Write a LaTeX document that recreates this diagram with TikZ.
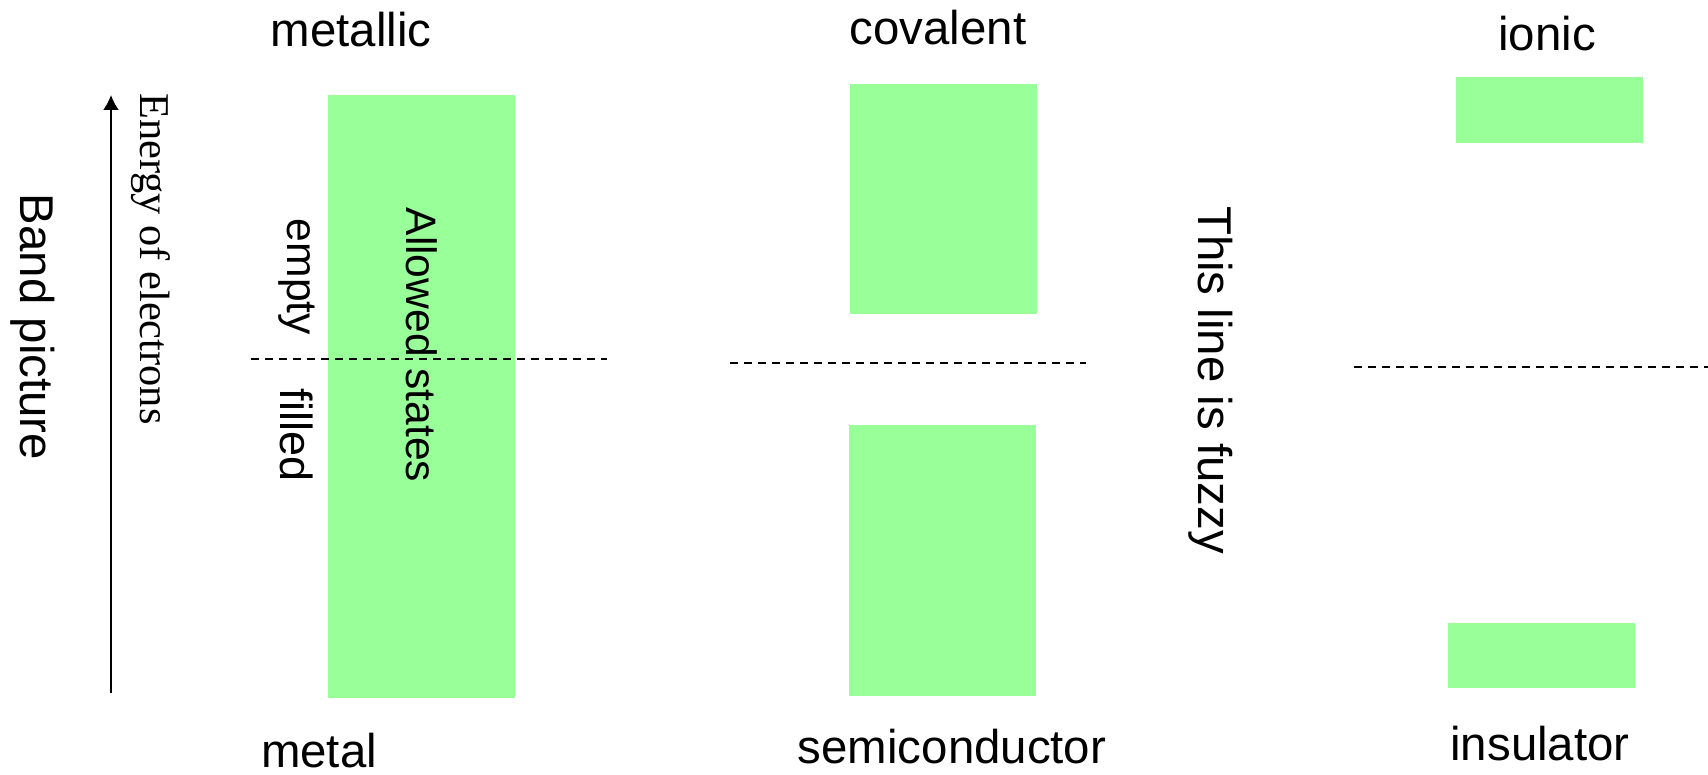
\documentclass[tikz,border=0pt]{standalone}
\usepackage{fontspec}
\newfontfamily\arial{Liberation Sans}
\newfontfamily\romanfont{Liberation Serif}
\usetikzlibrary{arrows.meta}

\begin{document}
\begin{tikzpicture}[x=0.5pt,y=0.5pt,yscale=-1,xscale=1,
    band/.style={fill={rgb,255:red,153;green,255;blue,153}},
    fermi/.style={line width=1pt,dash pattern=on 4pt off 3pt},
    lbl/.style={font=\arial\fontsize{23.7}{28}\selectfont,inner sep=0pt},
    small/.style={font=\arial\fontsize{21.3}{25}\selectfont,inner sep=0pt,rotate=-90}]
        \useasboundingbox (0,0) rectangle (1708,775);
        % allowed bands
        \fill[band] (328,95) rectangle (515,698);
        \fill[band] (850,84) rectangle (1037,314);
        \fill[band] (849,425) rectangle (1036,696);
        \fill[band] (1456,77) rectangle (1643,143);
        \fill[band] (1448,623) rectangle (1635,688);
        % fermi levels
        \draw[fermi] (251,359) -- (607,359);
        \draw[fermi] (730,363) -- (1086,363);
        \draw[fermi] (1354,367) -- (1708,367);
        % energy axis
        \coordinate (ebot) at (111,693);
        \coordinate (etop) at (111,95);
        \draw[line width=1pt,-{Latex[length=7.5pt,width=8pt]}] (ebot) -- (etop);
        \node[font=\romanfont\fontsize{21.2}{25}\selectfont,rotate=-90,inner sep=0pt] (energy) at (151,259) {Energy of electrons};
        \node[lbl,rotate=-90] (band) at (33,327) {Band picture};
        % labels
        \node[lbl] (metallic) at (351,30) {metallic};
        \node[lbl] (covalent) at (938,28) {covalent};
        \node[lbl] (ionic) at (1547,34) {ionic};
        \node[lbl] (metal) at (319,751) {metal};
        \node[lbl] (semi) at (952,747) {semiconductor};
        \node[lbl] (insul) at (1540,744) {insulator};
        \node[small] (empty) at (297,277) {empty};
        \node[small,font=\arial\fontsize{22.5}{26}\selectfont] (filled) at (297,435) {filled};
        \node[small] (allowed) at (422,345) {Allowed states};
        \node[lbl,rotate=-90] (fuzzy) at (1211,380) {This line is fuzzy};
\end{tikzpicture}
\end{document}
